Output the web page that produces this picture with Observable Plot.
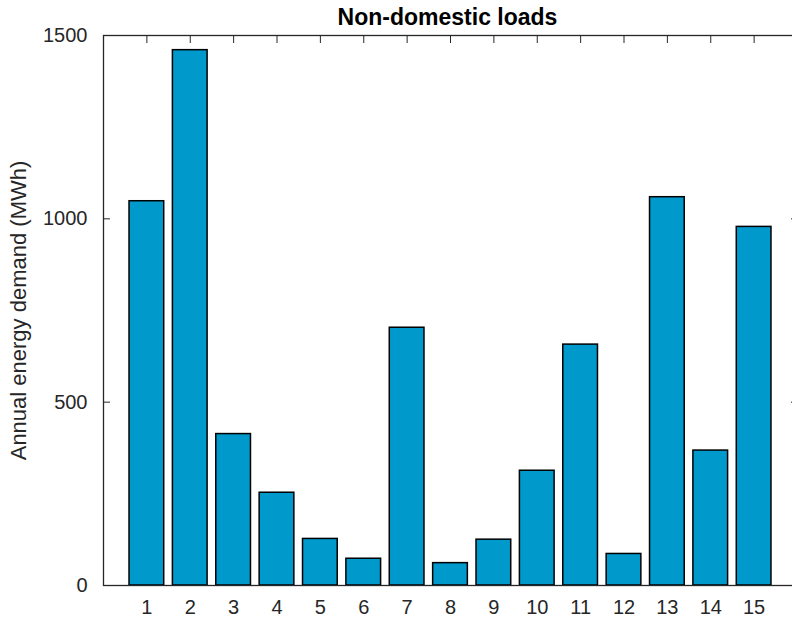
<!DOCTYPE html>
<html>
<head>
<meta charset="utf-8">
<script src="https://cdn.jsdelivr.net/npm/d3@7"></script>
<script src="https://cdn.jsdelivr.net/npm/@observablehq/plot@0.6"></script>
<style>
  html, body { margin: 0; padding: 0; background: white; overflow: hidden; }
  #chart svg { display: block; }
</style>
</head>
<body>
<div id="chart"></div>
<script>
const loadIds = [1, 2, 3, 4, 5, 6, 7, 8, 9, 10, 11, 12, 13, 14, 15];
const demandMWh = [1048, 1460, 413, 253, 127, 73, 703, 61, 125, 313, 657, 86, 1059, 368, 978];
const yTicks = [0, 500, 1000, 1500];
const titleText = "Non-domestic loads";
const yLabelText = "Annual energy demand (MWh)";

const data = loadIds.map((id, i) => ({id, value: demandMWh[i]}));
const axisColor = "#262626";
const font = "'Liberation Sans', Arial, Helvetica, sans-serif";

const chart = Plot.plot({
  width: 792,
  height: 621,
  marginLeft: 103,
  marginRight: -5,
  marginTop: 35,
  marginBottom: 36,
  style: {fontFamily: font, background: "white", overflow: "hidden"},
  x: {type: "linear", domain: [0, 16]},
  y: {domain: [0, 1500]},
  marks: [
    // inward ticks (drawn beneath bars)
    Plot.axisX(loadIds, {anchor: "bottom", tickSize: 7, dy: -7, fill: "none", stroke: axisColor, label: null}),
    Plot.axisX(loadIds, {anchor: "top", tickSize: 7, dy: 7, fill: "none", stroke: axisColor, label: null}),
    Plot.axisY(yTicks, {anchor: "left", tickSize: 7, dx: 7, fill: "none", stroke: axisColor, label: null}),
    Plot.axisY(yTicks, {anchor: "right", tickSize: 7, dx: -7, fill: "none", stroke: axisColor, label: null}),
    // bars
    Plot.rectY(data, {
      x1: d => d.id - 0.4,
      x2: d => d.id + 0.4,
      y1: 0,
      y2: "value",
      fill: "#0099cc",
      stroke: "#000000",
      strokeWidth: 1.5
    }),
    // axes box
    Plot.frame({stroke: axisColor, strokeWidth: 1.3}),
    // tick labels
    Plot.axisX(loadIds, {anchor: "bottom", tickSize: 0, tickPadding: 14, fontSize: 20, fill: axisColor, label: null, tickFormat: d => String(d)}),
    Plot.axisY(yTicks, {anchor: "left", tickSize: 0, tickPadding: 16, fontSize: 20, fill: axisColor, label: null, tickFormat: d => String(d)}),
    // y label
    Plot.text([yLabelText], {
      frameAnchor: "left", dx: -85, rotate: -90,
      fontSize: 22, fill: axisColor, textAnchor: "middle", lineAnchor: "middle"
    }),
    // title
    Plot.text([titleText], {
      frameAnchor: "top", dy: -18, dx: -3,
      fontSize: 23, fontWeight: "bold", fill: "#000000", lineAnchor: "middle"
    })
  ]
});
document.getElementById("chart").appendChild(chart);
</script>
</body>
</html>
